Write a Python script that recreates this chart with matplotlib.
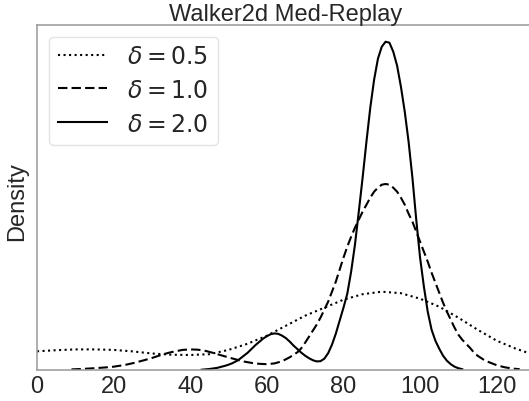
import matplotlib
matplotlib.use("Agg")
import matplotlib.pyplot as plt

# ---- data (density, arbitrary units) ----
title = "Walker2d Med-Replay"
labels = [r"$\delta = 0.5$", r"$\delta = 1.0$", r"$\delta = 2.0$"]
xticks = [0, 20, 40, 60, 80, 100, 120]

x_d05 = [0, 5, 10, 15, 20, 25, 30, 35, 40, 45, 50, 55, 60, 65, 70, 75, 80, 85,
         90, 95, 100, 105, 110, 115, 120, 125, 130]
y_d05 = [18.4, 19.5, 20.3, 20.3, 19.8, 18.3, 16.2, 15.0, 14.7, 15.5, 19.8, 26,
         34, 44, 54, 62, 70, 75.5, 78, 76.5, 71, 63, 52, 40, 29, 21, 14.5]

x_d10 = [9, 12, 15, 18, 20, 23, 25, 28, 30, 33, 35, 38, 40, 42, 44, 46, 48, 50,
         52, 54, 56, 58, 60, 62, 64, 66, 68, 69, 70, 71, 72, 73, 74, 75, 76, 77,
         78, 79, 80, 81, 82, 83, 84, 85, 86, 87, 88, 89, 90, 91, 92, 93, 94, 95,
         96, 97, 98, 99, 100, 101, 102, 103, 104, 105, 106, 107, 108, 109, 110,
         111, 112, 113, 114, 115, 116, 117, 118, 120, 122, 124, 126]
y_d10 = [0.3, 0.8, 1.5, 2.3, 3.0, 4.8, 6.5, 9.5, 11.7, 15.5, 17.5, 19.8, 20.3,
         20.0, 18.8, 16.8, 14.5, 12.3, 10.2, 8.2, 6.8, 5.9, 5.5, 6.3, 8.5, 12.5,
         17.5, 21.5, 27, 33, 39, 45, 52, 60, 68, 78, 88, 100, 112, 123, 133, 142,
         150, 158, 165, 172, 178, 182, 185, 185.7, 185, 182, 178, 172, 165, 156,
         148, 138, 128, 118, 108, 97, 87, 77, 67, 58, 50, 42, 35, 30, 26, 22,
         17.5, 14, 11.5, 9, 7.5, 4.5, 2.5, 1.2, 0.5]

x_d20 = [43, 45, 47, 49, 50, 51, 52.5, 55, 57, 59, 60, 61, 62, 63, 64, 65, 66,
         67, 68, 69, 70, 71, 72, 73, 74, 75, 76, 77, 78, 79, 80, 81, 82, 83, 84,
         85, 86, 87, 88, 89, 90, 91, 92, 93, 94, 95, 96, 97, 98, 99, 100, 101,
         102, 103, 104, 105, 106, 107, 108, 109, 110, 111]
y_d20 = [0, 0.7, 1.8, 3.8, 5, 6.5, 9.5, 17, 24.5, 31, 33.5, 35.5, 36.3, 35.8,
         34, 31.5, 28, 24, 20.5, 17, 14, 11.5, 9.5, 8.3, 8.5, 11, 16.5, 25, 36,
         49, 62, 76, 98, 125, 158, 192, 228, 262, 290, 311, 323, 328, 327, 318,
         304, 283, 258, 228, 192, 150, 112, 83, 58, 40, 29, 21, 14, 9, 5.5, 3,
         1.5, 0.5]

# ---- style ----
text_color = "#262626"
fs = 17
plt.rcParams["font.family"] = ["Liberation Sans", "DejaVu Sans"]
plt.rcParams["mathtext.fontset"] = "dejavusans"
plt.rcParams["text.color"] = text_color
plt.rcParams["xtick.color"] = text_color
plt.rcParams["axes.labelcolor"] = text_color

fig = plt.figure(figsize=(5.29, 4.02), dpi=100)
ax = fig.add_axes([37 / 529, 31.3 / 402, 498 / 529, 345 / 402])

ax.plot(x_d05, y_d05, color="black", linestyle=":", linewidth=1.5, label=labels[0])
ax.plot(x_d10, y_d10, color="black", linestyle=(0, (4.5, 2.0)), linewidth=1.5, label=labels[1])
ax.plot(x_d20, y_d20, color="black", linestyle="-", linewidth=1.5, label=labels[2])

ax.set_xlim(0, 130)
ax.set_ylim(0, 345)
ax.set_xticks(xticks)
ax.set_xticklabels([str(t) for t in xticks], fontsize=fs)
ax.set_yticks([])
ax.tick_params(axis="x", length=0, pad=3.5)

for side in ["left", "bottom", "top"]:
    ax.spines[side].set_color("#999999")
    ax.spines[side].set_linewidth(1.1)
ax.spines["right"].set_visible(False)

ax.set_title(title, fontsize=fs, pad=0.5, color=text_color)
ax.set_ylabel("Density", fontsize=fs)
ax.yaxis.set_label_coords(28.5 / 529, 200 / 402, transform=fig.transFigure)

leg = ax.legend(loc="upper left", fontsize=fs, handlelength=2.05,
                handletextpad=0.85, borderaxespad=0.5, frameon=True,
                fancybox=True, edgecolor="#dddddd", framealpha=0.8)
for t in leg.get_texts():
    t.set_color(text_color)

fig.savefig("out.png", dpi=100)
